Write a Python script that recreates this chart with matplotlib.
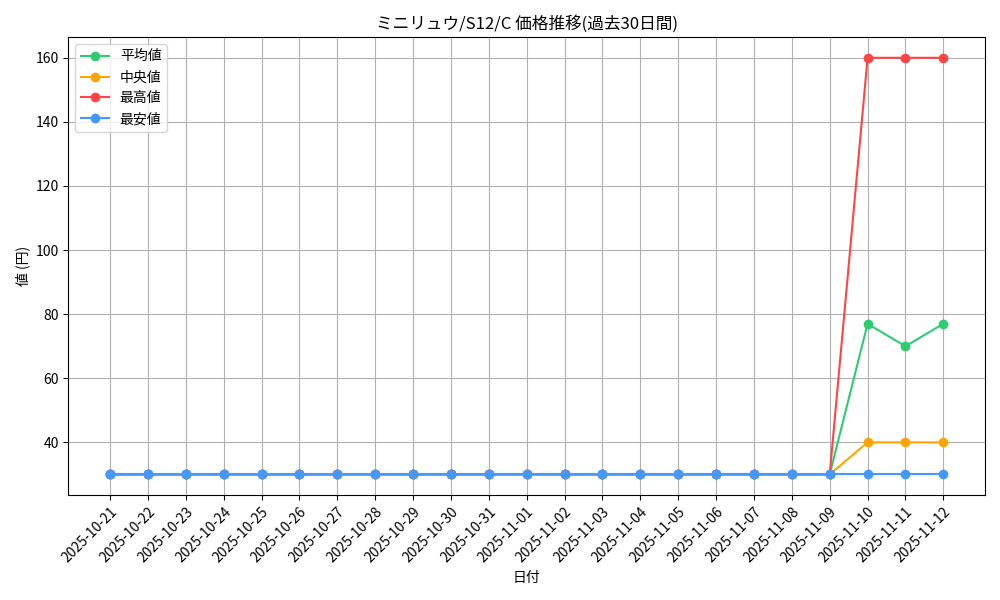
import matplotlib
matplotlib.use("Agg")
import matplotlib.pyplot as plt

plt.rcParams['font.family'] = ['Noto Sans CJK JP', 'DejaVu Sans']

dates = ['2025-10-21', '2025-10-22', '2025-10-23', '2025-10-24', '2025-10-25',
         '2025-10-26', '2025-10-27', '2025-10-28', '2025-10-29', '2025-10-30',
         '2025-10-31', '2025-11-01', '2025-11-02', '2025-11-03', '2025-11-04',
         '2025-11-05', '2025-11-06', '2025-11-07', '2025-11-08', '2025-11-09',
         '2025-11-10', '2025-11-11', '2025-11-12']
avg_vals = [30] * 20 + [77, 70, 77]
med_vals = [30] * 20 + [40, 40, 40]
max_vals = [30] * 20 + [160, 160, 160]
min_vals = [30] * 23

fig, ax = plt.subplots(figsize=(10, 6), dpi=100)
ax.plot(dates, avg_vals, marker='o', color='#2ecc71', label='平均値')
ax.plot(dates, med_vals, marker='o', color='#ffa500', label='中央値')
ax.plot(dates, max_vals, marker='o', color='#ff4444', label='最高値')
ax.plot(dates, min_vals, marker='o', color='#4499ff', label='最安値')

ax.set_title('ミニリュウ/S12/C 価格推移(過去30日間)')
ax.set_xlabel('日付')
ax.set_ylabel('値 (円)')
ax.grid(True)
ax.legend(loc='upper left')
plt.setp(ax.get_xticklabels(), rotation=45, ha='right', rotation_mode='anchor')
fig.tight_layout()
fig.savefig('out.png')
